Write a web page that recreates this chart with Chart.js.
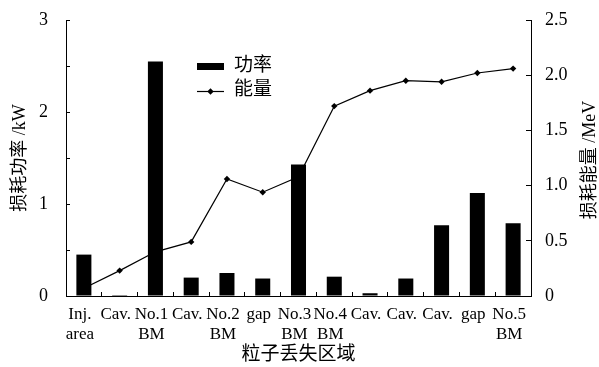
<!DOCTYPE html>
<html>
<head>
<meta charset="utf-8">
<script src="https://cdn.jsdelivr.net/npm/chart.js@4.4.1/dist/chart.umd.min.js"></script>
<style>
  html, body { margin: 0; padding: 0; background: #fff; }
  canvas { display: block; }
</style>
</head>
<body>
<canvas id="c" width="599" height="367"></canvas>
<script>
// Beam-loss regions along the ring
const categories = [
  ["Inj.", "area"], "Cav.", ["No.1", "BM"], "Cav.", ["No.2", "BM"], "gap",
  ["No.3", "BM"], ["No.4", "BM"], "Cav.", "Cav.", "Cav.", "gap", ["No.5", "BM"]
];
// Lost power per region (kW)
const power = [0.45, 0.01, 2.55, 0.20, 0.25, 0.19, 1.43, 0.21, 0.03, 0.19, 0.77, 1.12, 0.79];
// Lost energy per region (MeV)
const energy = [0.07, 0.23, 0.40, 0.49, 1.06, 0.94, 1.08, 1.72, 1.86, 1.95, 1.94, 2.02, 2.06];

const seriesNames = ["功率", "能量"];
const xTitle = "粒子丢失区域";
const yTitle = "损耗功率 /kW";
const y1Title = "损耗能量 /MeV";

const FONT = '"Liberation Serif", "Noto Sans CJK SC", serif';
Chart.defaults.font.family = FONT;
Chart.defaults.color = '#000';

// Legend drawn inside the plot, two rows: bar swatch and line-with-marker swatch
const innerLegend = {
  id: 'innerLegend',
  afterDraw(chart) {
    const ctx = chart.ctx;
    const x0 = 197, w = 27, tx = 234;
    ctx.save();
    ctx.fillStyle = '#000';
    ctx.strokeStyle = '#000';
    // bar entry
    ctx.fillRect(x0, 63, w, 7);
    // line entry
    const ly = 91.5;
    ctx.lineWidth = 1.2;
    ctx.beginPath();
    ctx.moveTo(x0, ly);
    ctx.lineTo(x0 + w, ly);
    ctx.stroke();
    const mx = x0 + w / 2, r = 3.2;
    ctx.beginPath();
    ctx.moveTo(mx, ly - r);
    ctx.lineTo(mx + r, ly);
    ctx.lineTo(mx, ly + r);
    ctx.lineTo(mx - r, ly);
    ctx.closePath();
    ctx.fill();
    ctx.font = '19px ' + FONT;
    ctx.textAlign = 'left';
    ctx.textBaseline = 'middle';
    ctx.fillText(chart.data.datasets[0].label, tx, 66.5);
    ctx.fillText(chart.data.datasets[1].label, tx, 90);
    ctx.restore();
  }
};

// Right-axis title, reading bottom to top like the left one
const rightTitle = {
  id: 'rightTitle',
  afterDraw(chart) {
    const ctx = chart.ctx;
    const a = chart.chartArea;
    ctx.save();
    ctx.translate(590, (a.top + a.bottom) / 2 + 2);
    ctx.rotate(-Math.PI / 2);
    ctx.font = '18px ' + FONT;
    ctx.fillStyle = '#000';
    ctx.textAlign = 'center';
    ctx.textBaseline = 'middle';
    ctx.fillText(y1Title, 0, 0);
    ctx.restore();
  }
};

// Vertical axes: fixed width, and no extra top/bottom reserve from the tick padding
function fixVertical(width) {
  return s => {
    s.width = width;
    s.paddingTop = 0;
    s.paddingBottom = 0;
  };
}

new Chart(document.getElementById('c'), {
  data: {
    labels: categories,
    datasets: [
      {
        type: 'bar',
        label: seriesNames[0],
        data: power,
        yAxisID: 'y',
        backgroundColor: '#000',
        borderWidth: 0,
        barPercentage: 0.42,
        categoryPercentage: 1,
        order: 1
      },
      {
        type: 'line',
        label: seriesNames[1],
        data: energy,
        yAxisID: 'y1',
        borderColor: '#000',
        borderWidth: 1.2,
        tension: 0,
        pointStyle: 'rectRot',
        pointRadius: 3.2,
        pointBackgroundColor: '#000',
        pointBorderColor: '#000',
        pointBorderWidth: 0,
        order: 2
      }
    ]
  },
  options: {
    responsive: false,
    animation: false,
    layout: { padding: { top: 20, left: 0, right: 0, bottom: 0 } },
    plugins: { legend: { display: false }, tooltip: { enabled: false } },
    scales: {
      x: {
        grid: { drawOnChartArea: false, tickLength: -4, color: '#000' },
        border: { color: '#000', width: 1 },
        ticks: {
          autoSkip: false, maxRotation: 0, minRotation: 0,
          font: { size: 17, lineHeight: 1.2 },
          padding: 12, labelOffset: -4, color: '#000'
        },
        title: {
          display: true, text: xTitle, color: '#000',
          font: { size: 19 }, padding: { top: 0, bottom: 1 }
        },
        afterFit(s) { s.height = 71; }
      },
      y: {
        position: 'left',
        min: 0, max: 3,
        grid: { drawOnChartArea: false, tickLength: -4, color: '#000' },
        border: { color: '#000', width: 1 },
        ticks: {
          stepSize: 0.5,
          callback: v => Number.isInteger(v) ? String(v) : '',
          font: { size: 18 }, padding: 22, color: '#000'
        },
        title: {
          display: true, text: yTitle, color: '#000',
          font: { size: 18 }, padding: { top: 9, bottom: 0 }
        },
        afterFit: fixVertical(66)
      },
      y1: {
        position: 'right',
        min: 0, max: 2.5,
        grid: { drawOnChartArea: false, tickLength: -5, color: '#000' },
        border: { color: '#000', width: 1 },
        ticks: {
          stepSize: 0.5,
          callback: v => v === 0 ? '0' : v.toFixed(1),
          font: { size: 18 }, padding: 19, color: '#000'
        },
        afterFit: fixVertical(68)
      }
    }
  },
  plugins: [innerLegend, rightTitle]
});
</script>
</body>
</html>
